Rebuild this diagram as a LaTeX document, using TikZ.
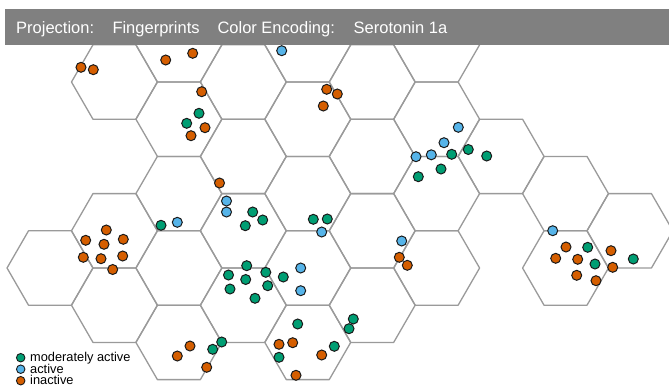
\documentclass[tikz,border=0pt]{standalone}
\usepackage{fontspec}
\setmainfont{Liberation Sans}
\definecolor{modact}{HTML}{009E73}
\definecolor{act}{HTML}{56B4E9}
\definecolor{inact}{HTML}{D55E00}
\definecolor{barg}{HTML}{808080}
\definecolor{gridg}{HTML}{9A9A9A}
\definecolor{dotline}{HTML}{1A1A1A}
\begin{document}
\begin{tikzpicture}[x=1pt,y=-1pt,
  hexline/.style={draw=gridg,line width=1.3pt,line join=round},
  dotm/.style={circle,draw=dotline,line width=1pt,inner sep=0pt,minimum size=10pt},
  G/.style={dotm,fill=modact},
  B/.style={dotm,fill=act},
  O/.style={dotm,fill=inact},
  legdot/.style={circle,draw=dotline,line width=0.9pt,inner sep=0pt,minimum size=8.5pt},
  hdr/.style={text=white,font=\fontsize{16.5}{18}\selectfont,anchor=base west,inner sep=0pt},
  leg/.style={font=\fontsize{12.8}{14}\selectfont,anchor=base west,inner sep=0pt}]
\useasboundingbox (0,0) rectangle (669,389);
\fill[white] (0,0) rectangle (669,389);
% hexagon grid
\begin{scope}
\clip (0,9) rectangle (669,389);
\foreach \c/\y in {0/268,
  1/82, 1/230.8, 1/305.2,
  2/44.8, 2/119.2, 2/193.6, 2/268, 2/342.4,
  3/82, 3/156.4, 3/230.8, 3/305.2,
  4/44.8, 4/119.2, 4/193.6, 4/268, 4/342.4,
  5/82, 5/156.4, 5/230.8, 5/305.2,
  6/44.8, 6/119.2, 6/193.6, 6/268,
  7/156.4,
  8/193.6, 8/268,
  9/230.8}{
  \pgfmathsetmacro{\cx}{50+64.44*\c}
  \draw[hexline] (\cx+42.96,\y) -- (\cx+21.48,\y+37.2) -- (\cx-21.48,\y+37.2)
     -- (\cx-42.96,\y) -- (\cx-21.48,\y-37.2) -- (\cx+21.48,\y-37.2) -- cycle;
}
\end{scope}
% header bar
\fill[barg] (5,9) rectangle (669,45);
\node[hdr] (h1) at (16,33.8) {Projection:};
\node[hdr] (h2) at (112.3,33.8) {Fingerprints};
\node[hdr] (h3) at (217.3,33.8) {Color Encoding:};
\node[hdr] (h4) at (353.5,33.8) {Serotonin 1a};
% data points
\foreach \s/\x/\y [count=\i] in {
  O/81/67.3, O/93.3/69.7, O/165.7/60, O/192.7/53.3, O/201.7/91.7,
  G/199/113.3, G/186.7/123.3, O/205/127.7, O/191/135.7,
  B/281.7/50.7, O/326.7/89.3, O/337.3/94, O/323.3/106,
  B/458.3/127.3, B/444/142.7, B/416/156.7, B/431.3/154.8,
  G/451.7/154.3, G/468.3/149.5, G/486.7/156, G/418.3/176.7, G/441/169,
  O/219.5/183, B/226.5/201, B/226.5/212, G/252.7/212, G/262.7/220, G/245.3/225.7,
  G/313.3/219.3, G/327.3/219, B/321.7/232,
  B/401.7/241, O/399.3/257.3, O/407.3/265.3,
  G/246.7/265.7, G/265.8/272.3, G/228.5/275, G/245.7/279.5, B/300.7/268,
  G/283.3/277, G/230/289, G/255/298.3, G/267.7/285.7, B/300.7/290.7,
  G/161/225.3, B/177.3/222.3,
  O/106.3/230, O/85.7/240.3, O/123.3/239.3, O/104/244.3, O/83.3/257.3,
  O/101/258.7, O/122.7/256, O/112.7/269.5,
  B/552.7/230.7, O/566/247, G/587.7/247.3, O/611/250.7, O/555.7/258.3,
  O/577.7/259.3, G/595/264, O/612.7/267.3, G/633.3/259, O/576.7/275.3, O/596/280.7,
  O/190/346, O/177.3/356, G/221.7/342, G/212.7/349.3, O/206.7/367.3,
  G/297.7/324, O/279/344.3, O/292.7/342.7, G/279/357.3, O/321.7/355,
  G/334.3/346.3, O/296/375.3, G/353.3/319, G/349/328.7}{
  \node[\s] (d\i) at (\x,\y) {};
}
% legend
\node[legdot,fill=modact] (lg1) at (20.7,357.7) {};
\node[legdot,fill=act] (lg2) at (20.7,369.2) {};
\node[legdot,fill=inact] (lg3) at (20.7,380.7) {};
\node[leg] (lt1) at (30,361.7) {moderately active};
\node[leg] (lt2) at (30,373.2) {active};
\node[leg] (lt3) at (30,384.5) {inactive};
\end{tikzpicture}
\end{document}
